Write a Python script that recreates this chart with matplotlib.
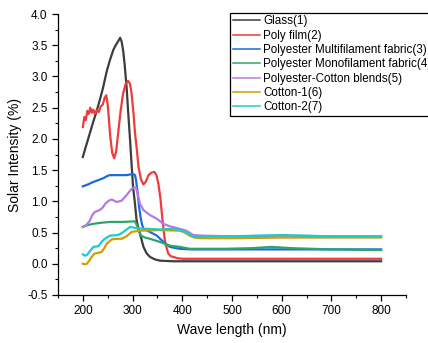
import matplotlib
matplotlib.use("Agg")
import matplotlib.pyplot as plt
from matplotlib.ticker import MultipleLocator

plt.rcParams["font.family"] = ["Liberation Sans", "DejaVu Sans"]

# readings (wavelength nm, intensity %)
glass_x = [200, 205, 210, 214, 220, 226, 234, 240, 248, 254, 261, 266, 270, 275, 278, 281, 284, 288, 291, 295,
           298, 301, 305, 308, 312, 315, 322, 328, 335, 345, 355, 380, 450, 550, 650, 800]
glass_y = [1.71, 1.85, 1.98, 2.09, 2.25, 2.40, 2.62, 2.80, 3.08, 3.25, 3.42, 3.50, 3.55, 3.62, 3.56, 3.42, 3.20, 2.83, 2.45, 1.98,
           1.60, 1.23, 0.95, 0.70, 0.56, 0.48, 0.27, 0.17, 0.11, 0.07, 0.05, 0.04, 0.04, 0.04, 0.04, 0.04]

poly_x = [200, 203, 206, 209, 212, 215, 218, 221, 224, 228, 232, 236, 240, 244, 247, 250, 255, 259, 263, 267, 271,
          276, 281, 286, 291, 295, 298, 302, 305, 309, 312, 317, 322, 327, 332, 338, 344, 348, 352, 356, 359,
          362, 365, 369, 372, 377, 382, 390, 400, 450, 550, 650, 800]
poly_y = [2.19, 2.35, 2.30, 2.45, 2.40, 2.50, 2.42, 2.47, 2.40, 2.46, 2.43, 2.52, 2.55, 2.66, 2.70, 2.55, 2.05, 1.78, 1.69, 1.80, 2.09,
          2.45, 2.73, 2.88, 2.93, 2.88, 2.73, 2.40, 2.09, 1.80, 1.55, 1.35, 1.27, 1.32, 1.42, 1.46, 1.47, 1.42, 1.28, 1.05, 0.80,
          0.58, 0.37, 0.24, 0.16, 0.12, 0.11, 0.09, 0.08, 0.08, 0.08, 0.08, 0.08]

multi_x = [200, 210, 221, 231, 241, 250, 255, 270, 288, 295, 301, 305, 307, 310, 313, 316, 319, 322, 335, 349, 362, 375,
           395, 420, 500, 600, 700, 800]
multi_y = [1.24, 1.27, 1.31, 1.34, 1.37, 1.41, 1.42, 1.42, 1.42, 1.43, 1.44, 1.42, 1.34, 1.15, 0.92, 0.75, 0.63, 0.56, 0.51, 0.45, 0.35, 0.27,
           0.24, 0.23, 0.23, 0.23, 0.23, 0.23]

mono_x = [200, 210, 221, 240, 255, 280, 305, 310, 317, 325, 335, 355, 375, 395, 415, 442, 489, 540, 580, 620, 700, 800]
mono_y = [0.59, 0.62, 0.64, 0.66, 0.67, 0.67, 0.68, 0.59, 0.45, 0.42, 0.40, 0.35, 0.29, 0.27, 0.24, 0.24, 0.24, 0.25, 0.27, 0.25, 0.23, 0.22]

blend_x = [200, 207, 214, 219, 224, 234, 240, 245, 252, 258, 263, 268, 278, 288, 298, 303, 307, 311, 315, 322, 335, 349,
           362, 375, 395, 408, 422, 442, 500, 600, 700, 800]
blend_y = [0.59, 0.62, 0.69, 0.78, 0.83, 0.86, 0.90, 0.96, 1.01, 1.03, 1.01, 0.99, 1.01, 1.10, 1.20, 1.22, 1.22, 1.10, 0.96, 0.86, 0.78, 0.72,
           0.64, 0.60, 0.56, 0.53, 0.46, 0.45, 0.44, 0.45, 0.44, 0.44]

cotton1_x = [200, 204, 208, 213, 218, 223, 228, 238, 243, 248, 258, 268, 278, 288, 298, 315, 355, 395, 405, 415, 425, 435,
             500, 600, 700, 800]
cotton1_y = [0.00, -0.01, 0.00, 0.05, 0.11, 0.16, 0.17, 0.19, 0.25, 0.32, 0.39, 0.40, 0.40, 0.44, 0.51, 0.53, 0.54, 0.53, 0.50, 0.45, 0.42, 0.41,
             0.41, 0.42, 0.42, 0.42]

cotton2_x = [200, 204, 208, 214, 221, 231, 236, 241, 248, 255, 271, 278, 285, 295, 308, 328, 355, 382, 408, 422, 440,
             500, 600, 700, 800]
cotton2_y = [0.15, 0.13, 0.14, 0.20, 0.27, 0.28, 0.33, 0.38, 0.42, 0.45, 0.46, 0.49, 0.53, 0.59, 0.57, 0.56, 0.55, 0.56, 0.51, 0.43, 0.44,
             0.44, 0.46, 0.44, 0.44]

series = [
    ("Glass(1)", glass_x, glass_y, "#3d3d3d"),
    ("Poly film(2)", poly_x, poly_y, "#ee3b3b"),
    ("Polyester Multifilament fabric(3)", multi_x, multi_y, "#1a6be0"),
    ("Polyester Monofilament fabric(4)", mono_x, mono_y, "#2fa46a"),
    ("Polyester-Cotton blends(5)", blend_x, blend_y, "#b57ae0"),
    ("Cotton-1(6)", cotton1_x, cotton1_y, "#d49c00"),
    ("Cotton-2(7)", cotton2_x, cotton2_y, "#1ccccc"),
]

fig = plt.figure(figsize=(4.28, 3.43), dpi=100)
ax = fig.add_axes([0.1355, 0.14, 0.813, 0.819])

for label, xs, ys, color in series:
    ax.plot(xs, ys, color=color, linewidth=1.6, label=label)

ax.set_xlim(150, 850)
ax.set_ylim(-0.5, 4.0)
ax.xaxis.set_major_locator(MultipleLocator(100))
ax.xaxis.set_minor_locator(MultipleLocator(50))
ax.yaxis.set_major_locator(MultipleLocator(0.5))
ax.yaxis.set_minor_locator(MultipleLocator(0.25))
ax.yaxis.set_major_formatter(plt.FormatStrFormatter("%.1f"))
ax.tick_params(which="major", direction="out", length=4, width=0.9, labelsize=8.5)
ax.tick_params(which="minor", direction="out", length=2, width=0.8)
for side in ("top", "right"):
    ax.spines[side].set_visible(False)
for side in ("left", "bottom"):
    ax.spines[side].set_linewidth(0.9)

ax.set_xlabel("Wave length (nm)", fontsize=10)
ax.set_ylabel("Solar Intensity (%)", fontsize=10)

leg = fig.legend(loc="upper left", bbox_to_anchor=(230 / 428, 1 - 12.5 / 343), fontsize=8.4,
                 frameon=True, fancybox=False, edgecolor="black", framealpha=1,
                 handlelength=2.3, handletextpad=0.3, borderpad=0.25, labelspacing=0.2,
                 borderaxespad=0)
leg.get_frame().set_linewidth(0.9)
for line in leg.get_lines():
    line.set_linewidth(1.1)

fig.savefig("out.png", dpi=100)
